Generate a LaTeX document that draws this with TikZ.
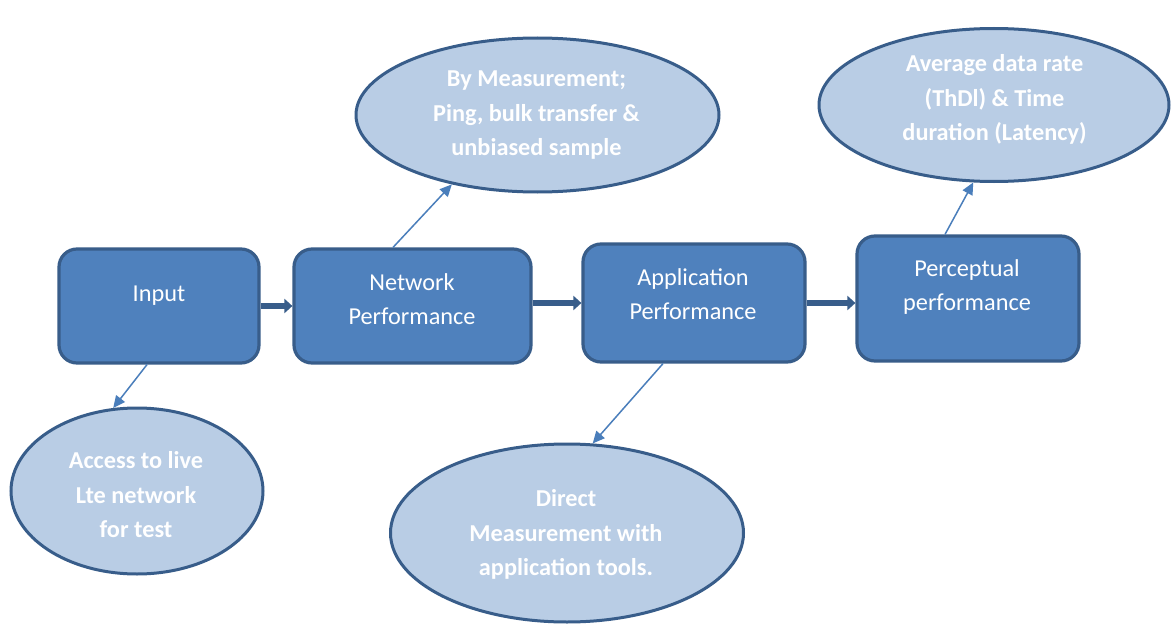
\documentclass[tikz,border=0pt]{standalone}
\usepackage{fontspec}
\setmainfont{Carlito}
\usetikzlibrary{shapes.geometric,arrows.meta}
\definecolor{boxfill}{HTML}{4F81BD}
\definecolor{boxline}{HTML}{385D8A}
\definecolor{ovalfill}{HTML}{B9CDE5}
\definecolor{thinarrow}{HTML}{4A7EBB}
\tikzset{
  stage/.style={draw=boxline, fill=boxfill, line width=3.2pt, rounded corners=18pt,
    rectangle, inner sep=0pt},
  oval/.style={draw=boxline, fill=ovalfill, line width=3pt, ellipse, inner sep=0pt},
  stagetext/.style={text=white, font=\fontsize{24.3}{34}\selectfont, align=center, inner sep=0pt},
  ovaltext/.style={text=white, font=\fontsize{24.3}{34.5}\selectfont\bfseries, align=center, inner sep=0pt},
  flow/.style={draw=boxline, line width=6.5pt, -{Triangle[length=8pt,width=14pt]}},
  link/.style={draw=thinarrow, line width=1.5pt, -{Triangle[length=12pt,width=11pt]}}
}
\begin{document}
\begin{tikzpicture}[x=1pt,y=-1pt]
\useasboundingbox (0,0) rectangle (1171,626);
\fill[white] (0,0) rectangle (1171,626);

% process stages
\node[stage, minimum width=200pt, minimum height=114pt] (input) at (159,306) {};
\node[stage, minimum width=237pt, minimum height=114pt] (net) at (412.5,306) {};
\node[stage, minimum width=222pt, minimum height=118pt] (app) at (694,303) {};
\node[stage, minimum width=222pt, minimum height=125pt] (perc) at (968,298.5) {};

\node[stagetext] (inputtxt) at (159,296) {Input};
\node[stagetext] (nettxt) at (412,299) {Network\\Performance};
\node[stagetext] (apptxt) at (693,294.5) {Application\\Performance};
\node[stagetext] (perctxt) at (967,287) {Perceptual\\performance};

% annotation ovals
\node[oval, minimum width=363pt, minimum height=154pt] (meas) at (537.5,115) {};
\node[oval, minimum width=350pt, minimum height=153pt] (avg) at (994,105) {};
\node[oval, minimum width=252pt, minimum height=166pt] (acc) at (137,491) {};
\node[oval, minimum width=353pt, minimum height=178pt] (direct) at (567,533) {};

\node[ovaltext] (meastxt) at (536.5,115.5) {By Measurement;\\Ping, bulk transfer \&\\unbiased sample};
\node[ovaltext] (avgtxt) at (994.5,99.5) {Average data rate\\(ThDl) \& Time\\duration (Latency)};
\node[ovaltext] (acctxt) at (136,495) {Access to live\\Lte network\\for test};
\node[ovaltext] (directtxt) at (566,534.5) {Direct\\Measurement with\\application tools.};

% main flow
\draw[flow] (input.east) -- (net.west);
\draw[flow] (app.west -| net.east) -- (app.west);
\draw[flow] (app.east) -- (app.east -| perc.west);

% annotations
\draw[link] ([xshift=-12pt]input.south) -- (acc.106);
\draw[link] ([xshift=-19.5pt]net.north) -- (meas.219);
\draw[link] ([xshift=-31pt]app.south) -- (direct.74);
\draw[link] ([xshift=-23pt]perc.north) -- (avg.255);
\end{tikzpicture}
\end{document}
